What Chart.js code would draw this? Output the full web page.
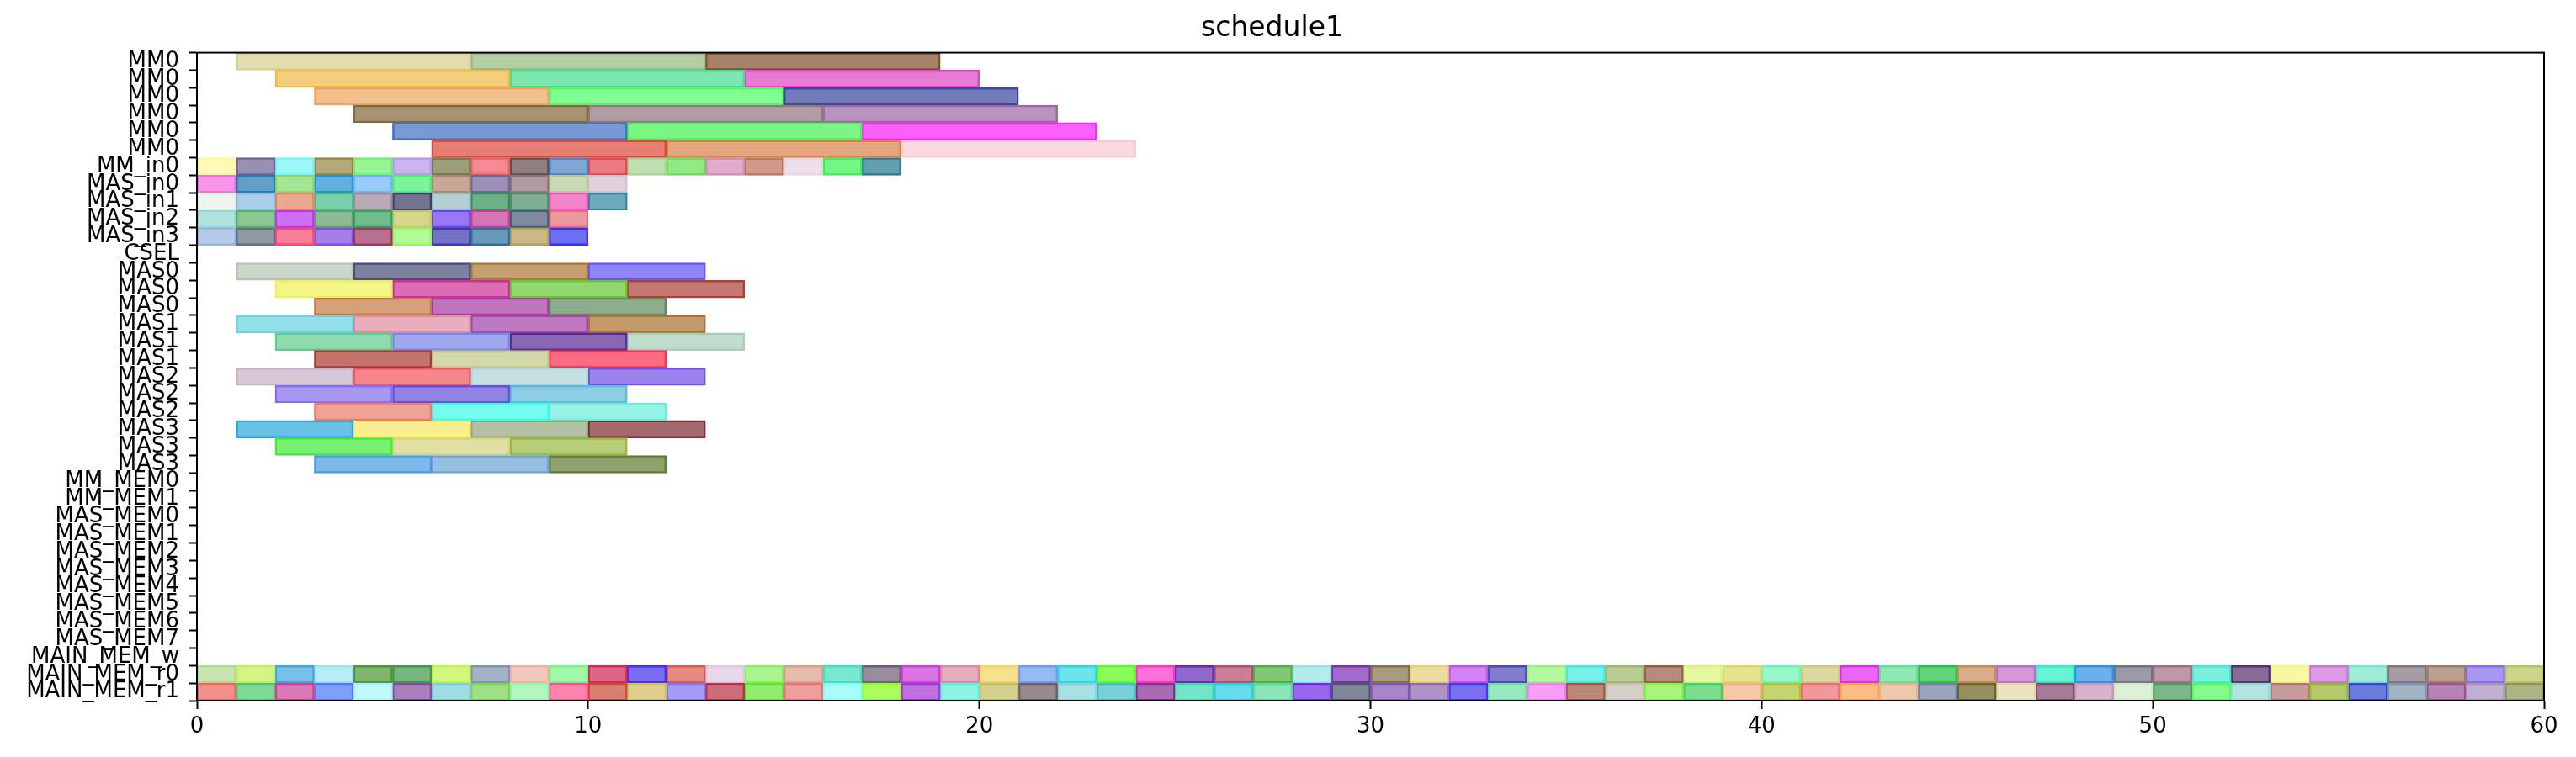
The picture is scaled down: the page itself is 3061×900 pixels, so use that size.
<!DOCTYPE html>
<html>
<head>
<meta charset="utf-8">
<script src="https://cdn.jsdelivr.net/npm/chart.js@4.4.0/dist/chart.umd.min.js"></script>
<style>
    html, body { margin: 0; padding: 0; background: #fff; }
    #wrap { width: 3061px; height: 900px; }
</style>
</head>
<body>
<div id="wrap"><canvas id="scheduleChart"></canvas></div>
<script>
// Row names, top to bottom
const rowLabels = [
    'MM0', 'MM0', 'MM0', 'MM0', 'MM0', 'MM0',
    'MM_in0', 'MAS_in0', 'MAS_in1', 'MAS_in2', 'MAS_in3', 'CSEL',
    'MAS0', 'MAS0', 'MAS0', 'MAS1', 'MAS1', 'MAS1',
    'MAS2', 'MAS2', 'MAS2', 'MAS3', 'MAS3', 'MAS3',
    'MM_MEM0', 'MM_MEM1',
    'MAS_MEM0', 'MAS_MEM1', 'MAS_MEM2', 'MAS_MEM3', 'MAS_MEM4', 'MAS_MEM5', 'MAS_MEM6', 'MAS_MEM7',
    'MAIN_MEM_w', 'MAIN_MEM_r0', 'MAIN_MEM_r1'
];

// Each row is a chain of back-to-back tasks, given as its boundaries
const mm0Edges = [
    [1, 7, 13, 19],
    [2, 8, 14, 20],
    [3, 9, 15, 21],
    [4, 10, 16, 22],
    [5, 11, 17, 23],
    [6, 12, 18, 24]
];
const mmIn0Edges = [0, 1, 2, 3, 4, 5, 6, 7, 8, 9, 10, 11, 12, 13, 14, 15, 16, 17, 18];
const masIn0Edges = [0, 1, 2, 3, 4, 5, 6, 7, 8, 9, 10, 11];
const masIn1Edges = [0, 1, 2, 3, 4, 5, 6, 7, 8, 9, 10, 11];
const masIn2Edges = [0, 1, 2, 3, 4, 5, 6, 7, 8, 9, 10];
const masIn3Edges = [0, 1, 2, 3, 4, 5, 6, 7, 8, 9, 10];
const masEdges = [
    [1, 4, 7, 10, 13], [2, 5, 8, 11, 14], [3, 6, 9, 12],
    [1, 4, 7, 10, 13], [2, 5, 8, 11, 14], [3, 6, 9, 12],
    [1, 4, 7, 10, 13], [2, 5, 8, 11],     [3, 6, 9, 12],
    [1, 4, 7, 10, 13], [2, 5, 8, 11],     [3, 6, 9, 12]
];
const mainMemR0Edges = [0, 1, 2, 3, 4, 5, 6, 7, 8, 9, 10, 11, 12, 13, 14, 15, 16, 17, 18, 19, 20,
    21, 22, 23, 24, 25, 26, 27, 28, 29, 30, 31, 32, 33, 34, 35, 36, 37, 38, 39, 40,
    41, 42, 43, 44, 45, 46, 47, 48, 49, 50, 51, 52, 53, 54, 55, 56, 57, 58, 59, 60];
const mainMemR1Edges = [0, 1, 2, 3, 4, 5, 6, 7, 8, 9, 10, 11, 12, 13, 14, 15, 16, 17, 18, 19, 20,
    21, 22, 23, 24, 25, 26, 27, 28, 29, 30, 31, 32, 33, 34, 35, 36, 37, 38, 39, 40,
    41, 42, 43, 44, 45, 46, 47, 48, 49, 50, 51, 52, 53, 54, 55, 56, 57, 58, 59, 60];

const xTickValues = [0, 10, 20, 30, 40, 50, 60];

// Colours of each task (as seen on white)
const mm0Colors = [
    ['#e3dcb0', '#b5cda4', '#a6826a'],
    ['#f3ce7c', '#7ce6b0', '#e87ad6'],
    ['#f2c08c', '#82fd92', '#737cba'],
    ['#a89474', '#b09ea4', '#b894be'],
    ['#7899d2', '#7cf586', '#fc60fa'],
    ['#e77e74', '#e3a67e', '#fbd8de']
];
const mmIn0Colors = ['#fff9b8', '#9b8fb3', '#9cf7f9', '#b3a878', '#98f597', '#cbb5ef', '#9a9f78', '#f48a8f', '#8f7f80',
    '#7ea6d6', '#ec7a82', '#bfe0b0', '#92e884', '#e2abc9', '#d09a8a', '#eee0ea', '#74f585', '#62a0b0'];
const masIn0Colors = ['#f996e8', '#62a0c8', '#a5e596', '#64b0dc', '#96caf8', '#7ef39e', '#c6a898', '#9b90b5', '#b09ca0', '#cad8b5', '#e2d2de'];
const masIn1Colors = ['#ecf4ec', '#aad0ee', '#eaa890', '#7ccfac', '#baaab6', '#737494', '#b5d0d3', '#6db08a', '#7fae94', '#f285cc', '#6aaabc'];
const masIn2Colors = ['#b2e2e0', '#8ac792', '#cc6ff5', '#8eba94', '#6fbc8e', '#d6d68e', '#9678f2', '#d475b4', '#7e8aa0', '#f096a0'];
const masIn3Colors = ['#b4cbe9', '#8d9aa5', '#f97e9a', '#a67fe6', '#b7708e', '#b1fa94', '#7572c4', '#6899b8', '#cbb887', '#6d6ef2'];
const masColors = [
    ['#c9d6c9', '#7d809e', '#c49f70', '#9186f9'],
    ['#f3f48a', '#dc6cb4', '#92d86e', '#c37872'],
    ['#d6a07a', '#c074bc', '#8fac8e'],
    ['#94e0e8', '#e8aebc', '#bd7ac2', '#c49a6c'],
    ['#90dab0', '#a0a8f0', '#8768b4', '#c0dccc'],
    ['#c3736c', '#d3d8a8', '#fc6b84'],
    ['#d6c8d6', '#f6868e', '#c6dfe2', '#9b82ec'],
    ['#a898f6', '#9182e4', '#8ecde6'],
    ['#f0a296', '#74fcee', '#96f2e4'],
    ['#68c0e2', '#f8f08e', '#b4c0a4', '#a46a70'],
    ['#78f074', '#e2e0a4', '#b6cc78'],
    ['#7eb8ea', '#96bee0', '#8ea26e']
];
const mainMemR0Colors = ['#c8e4b0', '#d4f48a', '#78c0e8', '#b8ecf6', '#80b46e', '#78b680', '#d4f87e', '#a4b2c8', '#f4c8bc', '#a0f8a8',
    '#e06486', '#7a6cf4', '#e48a82', '#e8d8ec', '#a8f48e', '#e4bcac', '#78e8d0', '#988ca0', '#dc74e4', '#e6acc0',
    '#f4e090', '#98b8f4', '#6ce2ec', '#8cfc5a', '#fc70d8', '#9068c8', '#c88098', '#80c878', '#b4ecec', '#a06cc8',
    '#a89a7c', '#f0dca0', '#d484f0', '#807ccc', '#b4f8a0', '#78f0e8', '#b8cc94', '#b88c7c', '#e4f8a4', '#e6e490',
    '#98f8cc', '#dcd8a0', '#e868f4', '#90e8b4', '#64d47a', '#d8ac88', '#d498d8', '#68f4d4', '#6cb0ec', '#9c98a8',
    '#bc98a8', '#78f0dc', '#886c98', '#f6f8a4', '#dc9ce4', '#a0ecd8', '#a89ca4', '#bca090', '#a898f0', '#ccd48c'];
const mainMemR1Colors = ['#f49090', '#80d898', '#d878b4', '#80a0f8', '#c0f8fc', '#a880bc', '#a0dce4', '#a0e084', '#b0f8c0', '#fc84b0',
    '#d88074', '#ded08c', '#a49cf8', '#cc6c7c', '#90ec6c', '#f09c9c', '#a8fcfc', '#acfc60', '#c070e0', '#8cf4e4',
    '#d4d090', '#988a90', '#a8e0e4', '#78d0d4', '#a86cb0', '#74e4c8', '#64dcec', '#8ce4b8', '#9868ec', '#808898',
    '#a884cc', '#b094c8', '#7a70f0', '#98e8c0', '#f8a0f8', '#bc8878', '#d4d0c8', '#a8f47c', '#7cdc90', '#f4c8a8',
    '#c4d470', '#f0989c', '#fcbc84', '#ecc8ac', '#9ca4bc', '#949064', '#eae4c0', '#a47c98', '#d8b4cc', '#dcf0d4',
    '#7cb88c', '#84fc8c', '#b4e4e0', '#c89c9c', '#b4c86c', '#6c7cdc', '#a0b4c4', '#b884b4', '#c0b0d0', '#acb488'];

document.addEventListener('DOMContentLoaded', function() {
    const empty = [];
    const rows = [
        ...mm0Edges, mmIn0Edges, masIn0Edges, masIn1Edges, masIn2Edges, masIn3Edges, empty,
        ...masEdges,
        empty, empty, empty, empty, empty, empty, empty, empty, empty, empty,
        empty, mainMemR0Edges, mainMemR1Edges
    ];
    const rowColors = [
        ...mm0Colors, mmIn0Colors, masIn0Colors, masIn1Colors, masIn2Colors, masIn3Colors, empty,
        ...masColors,
        empty, empty, empty, empty, empty, empty, empty, empty, empty, empty,
        empty, mainMemR0Colors, mainMemR1Colors
    ];

    // outline = same hue laid again at ~60% over the fill, so a bit darker
    function edgeOf(hex) {
        const v = [1, 3, 5].map(i => parseInt(hex.substr(i, 2), 16));
        const out = v.map(f => {
            const c = Math.max(0, Math.min(255, (f - 102) / 0.6));
            return Math.round(0.84 * c + 40.8);
        });
        return 'rgb(' + out.join(',') + ')';
    }

    const maxSegs = Math.max(...rows.map(r => Math.max(r.length - 1, 0)));
    const datasets = [];
    for (let k = 0; k < maxSegs; k++) {
        datasets.push({
            data: rows.map(r => (k < r.length - 1 ? [r[k], r[k + 1]] : null)),
            backgroundColor: rowColors.map(c => c[k] || 'rgba(0,0,0,0)'),
            borderColor: rowColors.map(c => (c[k] ? edgeOf(c[k]) : 'rgba(0,0,0,0)')),
            borderWidth: 2.5,
            borderSkipped: false,
            grouped: false,
            barPercentage: 1,
            categoryPercentage: 1
        });
    }

    // full box around the plot
    const frame = {
        id: 'frame',
        afterDraw(chart) {
            const a = chart.chartArea;
            const ctx = chart.ctx;
            ctx.save();
            ctx.strokeStyle = '#000';
            ctx.lineWidth = 2;
            ctx.strokeRect(a.left, a.top, a.right - a.left, a.bottom - a.top);
            ctx.restore();
        }
    };

    const font = { family: 'DejaVu Sans', size: 26 };
    const ctx = document.getElementById('scheduleChart').getContext('2d');
    new Chart(ctx, {
        type: 'bar',
        data: { labels: rowLabels, datasets: datasets },
        plugins: [frame],
        options: {
            indexAxis: 'y',
            responsive: true,
            maintainAspectRatio: false,
            devicePixelRatio: 1,
            animation: false,
            layout: { padding: { left: 0, right: 38, top: 0, bottom: 0 } },
            scales: {
                x: {
                    type: 'linear',
                    min: 0,
                    max: 60,
                    afterBuildTicks: s => { s.ticks = xTickValues.map(v => ({ value: v })); },
                    ticks: { color: '#000', font: font, padding: 6, maxRotation: 0 },
                    grid: { drawOnChartArea: false, tickLength: 10, tickWidth: 2, tickColor: '#000' },
                    border: { color: '#000', width: 2 },
                    afterFit: s => { s.height = 67; }
                },
                y: {
                    type: 'category',
                    ticks: { autoSkip: false, color: '#000', font: font, padding: 11 },
                    grid: { drawOnChartArea: false, tickLength: 10, tickWidth: 2, tickColor: '#000' },
                    border: { color: '#000', width: 2 },
                    afterFit: s => { s.width = 234; }
                }
            },
            plugins: {
                legend: { display: false },
                tooltip: { enabled: false },
                title: {
                    display: true,
                    text: 'schedule1',
                    color: '#000',
                    font: { family: 'DejaVu Sans', size: 33, weight: 'normal' },
                    padding: { top: 15, bottom: 8 }
                }
            }
        }
    });
});
</script>
</body>
</html>
